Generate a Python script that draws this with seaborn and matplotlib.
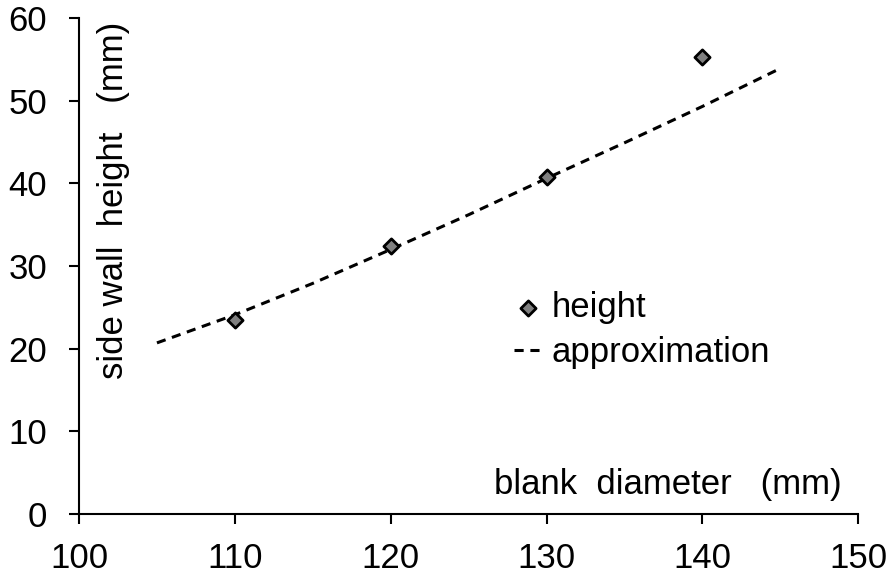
import matplotlib
matplotlib.use("Agg")
import matplotlib.pyplot as plt
import seaborn as sns
import pandas as pd

diameter = [110, 120, 130, 140]
height = [23.5, 32.4, 40.8, 55.3]

approx_x = [105, 110, 115, 120, 125, 130, 135, 140, 145]
approx_y = [20.7, 24.1, 27.9, 32.0, 36.2, 40.6, 44.9, 49.3, 53.9]

x_ticks = [100, 110, 120, 130, 140, 150]
y_ticks = [0, 10, 20, 30, 40, 50, 60]

sns.set_theme(style="white")
plt.rcParams["font.family"] = ["Liberation Sans", "DejaVu Sans"]

fig = plt.figure(figsize=(8.94, 5.78), dpi=100)
ax = fig.add_axes([0.0884, 0.1107, 0.8716, 0.8582])

df_pts = pd.DataFrame({"d": diameter, "h": height})
df_ap = pd.DataFrame({"d": approx_x, "h": approx_y})

sns.lineplot(data=df_ap, x="d", y="h", ax=ax, color="black", linewidth=2.2,
             linestyle=(0, (3.0, 2.2)), label="approximation", legend=False)
sns.scatterplot(data=df_pts, x="d", y="h", ax=ax, marker="D", s=60,
                color="#808080", edgecolor="black", linewidth=2,
                label="height", legend=False, zorder=3)

ax.set_xlim(100, 150)
ax.set_ylim(0, 60)
ax.set_xticks(x_ticks)
ax.set_yticks(y_ticks)
ax.tick_params(axis="both", labelsize=25, direction="out", length=7, width=1.5,
               color="black", labelcolor="black", bottom=True, left=True)
ax.tick_params(axis="x", pad=13)
ax.tick_params(axis="y", pad=16)
for side in ["top", "right"]:
    ax.spines[side].set_visible(False)
for side in ["left", "bottom"]:
    ax.spines[side].set_color("black")
    ax.spines[side].set_linewidth(1.5)

ax.set_xlabel("")
ax.set_ylabel("")
ax.text(0.532, 0.06, "blank  diameter   (mm)", transform=ax.transAxes,
        fontsize=25, color="black", ha="left", va="center")
ax.text(0.044, 0.632, "side wall  height   (mm)", transform=ax.transAxes,
        fontsize=25, color="black", rotation=90, ha="center", va="center")

h, l = ax.get_legend_handles_labels()
order = [l.index("height"), l.index("approximation")]
ax.legend([h[i] for i in order], [l[i] for i in order], frameon=False,
          fontsize=25, loc="upper left", bbox_to_anchor=(0.54, 0.478),
          handlelength=0.8, handletextpad=0.3, labelspacing=0.35,
          borderaxespad=0, labelcolor="black")

fig.savefig("out.png", dpi=100)
